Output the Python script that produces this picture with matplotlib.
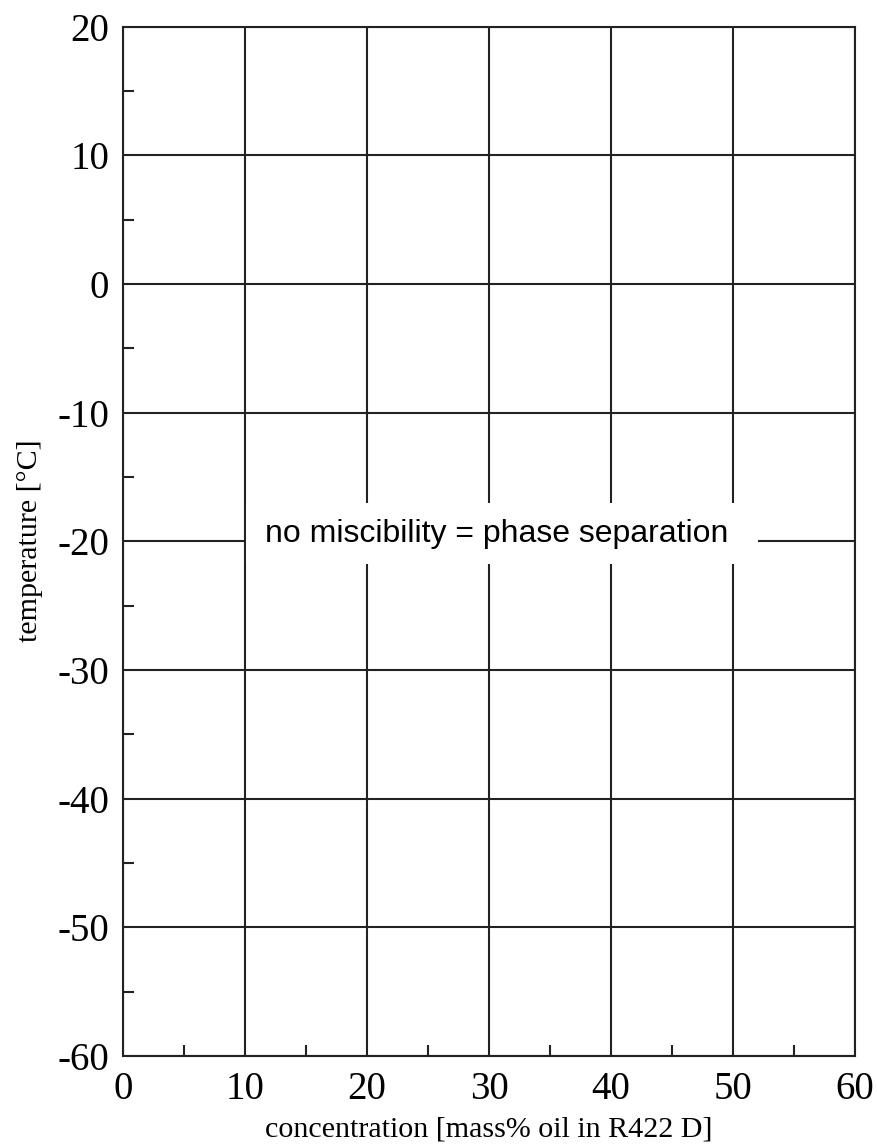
import matplotlib
matplotlib.use('Agg')
import matplotlib.pyplot as plt
from matplotlib.patches import Rectangle

# axis ranges and tick positions
x_limits = (0, 60)
y_limits = (-60, 20)
x_ticks = [0, 10, 20, 30, 40, 50, 60]
y_ticks = [-60, -50, -40, -30, -20, -10, 0, 10, 20]
x_minor = [5, 15, 25, 35, 45, 55]
y_minor = [-55, -45, -35, -25, -15, -5, 5, 15]

region_label = 'no miscibility = phase separation'
x_title = 'concentration [mass% oil in R422 D]'
y_title = 'temperature [°C]'

plt.rcParams['font.family'] = ['Liberation Serif', 'DejaVu Serif']
plt.rcParams['axes.unicode_minus'] = False

line_col = '#222222'
lw = 1.5

fig = plt.figure(figsize=(8.77, 11.44), dpi=100)
ax = fig.add_axes([0.1403, 0.0769, 0.8346, 0.8999])
ax.set_xlim(*x_limits)
ax.set_ylim(*y_limits)

ax.set_xticks(x_ticks)
ax.set_yticks(y_ticks)
ax.set_xticks(x_minor, minor=True)
ax.set_yticks(y_minor, minor=True)

# grid on the major ticks, short inward ticks in between
ax.set_axisbelow(True)
ax.grid(True, which='major', color=line_col, linewidth=lw)
ax.tick_params(which='major', length=0, labelsize=28)
ax.tick_params(axis='x', which='major', pad=11)
ax.tick_params(axis='y', which='major', pad=10)
ax.tick_params(which='minor', direction='in', length=8, width=lw, color=line_col)
for s in ax.spines.values():
    s.set_color(line_col)
    s.set_linewidth(lw)

# white patch behind the region label
ax.add_patch(Rectangle((10.1, -21.8), 41.95, 4.8, facecolor='white',
                       edgecolor='none', zorder=2))
ax.text(30.6, -19.4, region_label, family=['Liberation Sans', 'DejaVu Sans'],
        fontsize=23, ha='center', va='center', zorder=3)

ax.set_xlabel(x_title, fontsize=21.6)
ax.set_ylabel(y_title, fontsize=21.6)
ax.xaxis.set_label_coords(0.5, -0.0583)
ax.yaxis.set_label_coords(-0.109, 0.501)

fig.savefig('out.png', dpi=100)
